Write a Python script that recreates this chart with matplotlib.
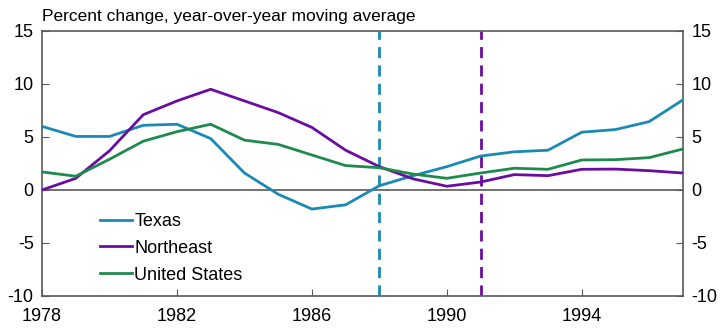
import matplotlib
matplotlib.use("Agg")
import matplotlib.pyplot as plt

years = list(range(1978, 1998))
texas = [6.0, 5.05, 5.05, 6.1, 6.2, 4.85, 1.6, -0.4, -1.8, -1.4, 0.4, 1.35, 2.2, 3.2, 3.6, 3.75, 5.45, 5.7, 6.45, 8.5]
northeast = [0.0, 1.1, 3.7, 7.1, 8.4, 9.5, 8.4, 7.3, 5.9, 3.75, 2.2, 1.05, 0.35, 0.75, 1.45, 1.35, 1.95, 1.97, 1.82, 1.6]
us = [1.7, 1.3, 2.9, 4.6, 5.5, 6.2, 4.7, 4.3, 3.3, 2.3, 2.1, 1.5, 1.1, 1.6, 2.05, 1.95, 2.83, 2.86, 3.05, 3.87]
texas_peak = 1988
northeast_peak = 1991
xticks = [1978, 1982, 1986, 1990, 1994]
yticks = [-10, -5, 0, 5, 10, 15]

c_tx = "#1A8AB5"
c_ne = "#6A0DA0"
c_us = "#1F8A4E"
spine_c = "#595959"

plt.rcParams['font.family'] = ['Liberation Sans', 'DejaVu Sans']
plt.rcParams['axes.unicode_minus'] = False

fig = plt.figure(figsize=(7.25, 3.28), dpi=100)
ax = fig.add_axes([0.058, 0.0976, 0.884, 0.808])

ax.axhline(0, color=spine_c, lw=1.2, zorder=1)
ax.plot(years, texas, color=c_tx, lw=2, label="Texas", zorder=3)
ax.plot(years, northeast, color=c_ne, lw=2, label="Northeast", zorder=3)
ax.plot(years, us, color=c_us, lw=2, label="United States", zorder=3)
ax.axvline(texas_peak, color=c_tx, lw=2, ls=(0, (4, 2.6)), zorder=2)
ax.axvline(northeast_peak, color=c_ne, lw=2, ls=(0, (4, 2.6)), zorder=2)

ax.set_xlim(1978, 1997)
ax.set_ylim(-10, 15)
ax.set_xticks(xticks)
ax.set_yticks(yticks)
for s in ax.spines.values():
    s.set_color(spine_c)
    s.set_linewidth(1.2)
ax.tick_params(direction='in', length=5, color=spine_c, labelsize=13, pad=6)
ax.tick_params(axis='x', pad=9)
ax.tick_params(axis='y', right=True, labelright=True)

ax.legend(loc='lower left', bbox_to_anchor=(0.065, -0.015), frameon=False,
          fontsize=13, handlelength=1.75, handletextpad=0.15, labelspacing=0.55)

fig.text(0.058, 0.95, "Percent change, year-over-year moving average", fontsize=12.5,
         ha='left', va='center')

fig.savefig("out.png", dpi=100)
